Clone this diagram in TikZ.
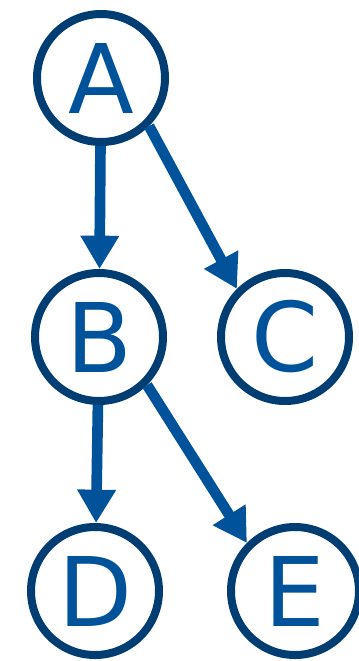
\documentclass[tikz,border=0pt]{standalone}
\usepackage{fontspec}
\setmainfont{DejaVu Sans}
\usetikzlibrary{arrows.meta}
\definecolor{ringblue}{RGB}{0,61,115}
\definecolor{treeblue}{RGB}{0,83,155}
\tikzset{
  vertex/.style={draw=ringblue, circle, line width=0.24cm, minimum size=3.84cm,
    inner sep=0pt, text=treeblue, font=\fontsize{82}{90}\selectfont},
  edge/.style={draw=treeblue, line width=0.32cm,
    -{Triangle[width=1.1cm,length=1cm]}}
}
\begin{document}
\begin{tikzpicture}[x=0.03cm, y=-0.03cm]
				\useasboundingbox (0,0) rectangle (359,661);
				\foreach \n/\x/\y in {A/101/78, B/99/337, C/285/337, D/95/591, E/295/591}
					\node[vertex] (\n) at (\x,\y) {\n};
				\draw[edge] (A) -- (B);
				\draw[edge] (B) -- (D);
				\draw[edge] (A.-45) -- (C.135); % diagonal edges leave at the lower right
				\draw[edge] (B.-45) -- (E.135);
			\end{tikzpicture}
\end{document}
